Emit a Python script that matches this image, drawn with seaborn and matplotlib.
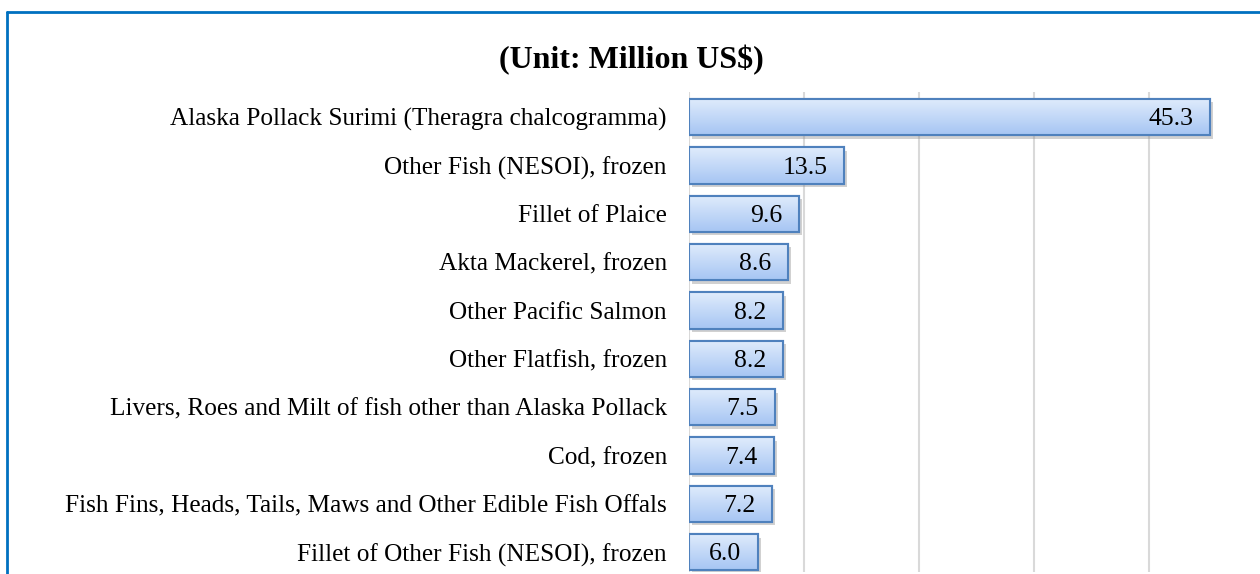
import numpy as np
import pandas as pd
import matplotlib
matplotlib.use('Agg')
import matplotlib.pyplot as plt
import matplotlib.patheffects as pe
from matplotlib.patches import Rectangle
import seaborn as sns

# ── Data ───────────────────────────────────────────────
products = [
    'Alaska Pollack Surimi (Theragra chalcogramma)',
    'Other Fish (NESOI), frozen',
    'Fillet of Plaice',
    'Akta Mackerel, frozen',
    'Other Pacific Salmon',
    'Other Flatfish, frozen',
    'Livers, Roes and Milt of fish other than Alaska Pollack',
    'Cod, frozen',
    'Fish Fins, Heads, Tails, Maws and Other Edible Fish Offals',
    'Fillet of Other Fish (NESOI), frozen',
]
values = [45.3, 13.5, 9.6, 8.6, 8.2, 8.2, 7.5, 7.4, 7.2, 6.0]
title = '(Unit: Million US$)'

df = pd.DataFrame({'product': products, 'value': values})

sns.set_style('white')
plt.rcParams['font.family'] = ['Liberation Serif', 'DejaVu Serif']
plt.rcParams['text.color'] = 'black'
plt.rcParams['ytick.color'] = 'black'

fig = plt.figure(figsize=(12.6, 5.74), dpi=100)
ax = fig.add_axes([689 / 1260, 1 - 572 / 574, (1252.5 - 689) / 1260, (572 - 92) / 574])

sns.barplot(data=df, x='value', y='product', orient='h', width=0.75,
            color='#c6dbf8', edgecolor='#4f81bd', linewidth=1.5, ax=ax,
            zorder=3)

# gradient fill + soft shadow on each bar
grad = np.linspace(0, 1, 64).reshape(-1, 1)
cmap = matplotlib.colors.LinearSegmentedColormap.from_list(
    'bar', ['#e0ecfc', '#a6c5f3'])
for p in ax.patches:
    x0, y0 = p.get_x(), p.get_y()
    w, h = p.get_width(), p.get_height()
    p.set_path_effects([pe.SimplePatchShadow(offset=(2, -2.5), shadow_rgbFace='#8c8c8c', alpha=0.4),
                        pe.Normal()])
    im = ax.imshow(grad, extent=[x0, x0 + w, y0 + h, y0], aspect='auto',
                   cmap=cmap, zorder=3.5, origin='upper')
    im.set_clip_path(p)
    edge = Rectangle((x0, y0), w, h, fill=False, edgecolor='#4f81bd',
                     linewidth=1.5, zorder=4)
    ax.add_patch(edge)

for i, v in enumerate(values):
    ax.annotate(f'{v:.1f}', xy=(v, i), xytext=(-12, -1.5), textcoords='offset points',
                ha='right', va='center', fontsize=18.5, color='black', zorder=5)

ax.set_xlim(0, 49)
ax.set_ylim(9.41, -0.52)
ax.set_xticks([0, 10, 20, 30, 40])
ax.xaxis.grid(True, color='#d9d9d9', linewidth=1.5, zorder=0)
ax.set_axisbelow(True)
ax.tick_params(axis='x', labelbottom=False, length=0)
ax.tick_params(axis='y', length=0, pad=16, labelsize=18.2, labelcolor='black')
ax.set_xlabel('')
ax.set_ylabel('')
for s in ax.spines.values():
    s.set_visible(False)

fig.text(631 / 1260, 1 - 60 / 574, title, ha='center', va='center',
         fontsize=23, fontweight='bold', color='black')

# blue frame around the chart
fig.add_artist(plt.Line2D([7 / 1260, 7 / 1260], [0, 1 - 12 / 574],
                          transform=fig.transFigure, color='#0070c0', linewidth=2))
fig.add_artist(plt.Line2D([7 / 1260, 1], [1 - 12 / 574, 1 - 12 / 574],
                          transform=fig.transFigure, color='#0070c0', linewidth=2))

plt.savefig('out.png', dpi=100)
